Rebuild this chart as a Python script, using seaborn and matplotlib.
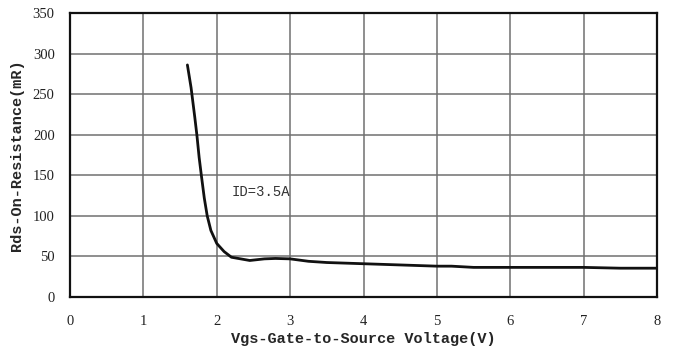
import matplotlib
matplotlib.use("Agg")
import matplotlib.pyplot as plt
import seaborn as sns
import pandas as pd

# Rds(on) versus gate-source voltage at ID = 3.5 A
vgs = [1.60, 1.65, 1.70, 1.73, 1.76, 1.79, 1.83, 1.87, 1.92, 2.00, 2.10, 2.20,
       2.45, 2.65, 2.80, 3.00, 3.25, 3.50, 4.00, 4.50, 5.00, 5.20, 5.50, 6.00,
       6.50, 7.00, 7.50, 8.00]
rds = [286, 258, 222, 199, 172, 150, 122, 100, 82, 66, 56, 49,
       45, 47, 47.5, 47, 44, 42.5, 41, 39.5, 38, 38, 36.5, 36.5,
       36.5, 36.5, 35.5, 35.5]

x_ticks = [0, 1, 2, 3, 4, 5, 6, 7, 8]
y_ticks = [0, 50, 100, 150, 200, 250, 300, 350]

df = pd.DataFrame({"Vgs": vgs, "Rds": rds})

sns.set_style("white")
fig = plt.figure(figsize=(6.74, 3.52), dpi=100)
ax = fig.add_axes([70 / 674, 1 - 297 / 352, 587 / 674, 284 / 352])

sns.lineplot(data=df, x="Vgs", y="Rds", ax=ax, color="#111111", linewidth=2.0)

ax.set_xlim(0, 8)
ax.set_ylim(0, 350)
ax.set_xticks(x_ticks)
ax.set_yticks(y_ticks)
ax.grid(True, color="#707070", linewidth=1.1)
ax.tick_params(axis="x", length=0, pad=13, labelsize=10.5, labelcolor="#222222")
ax.tick_params(axis="y", length=0, pad=11, labelsize=10.5, labelcolor="#222222")
for lbl in ax.get_xticklabels() + ax.get_yticklabels():
    lbl.set_family("Liberation Serif")
for s in ax.spines.values():
    s.set_visible(True)
    s.set_color("#111111")
    s.set_linewidth(1.6)

ax.set_xlabel("Vgs-Gate-to-Source Voltage(V)", family="Liberation Mono",
              fontweight="bold", fontsize=11, labelpad=3)
ax.set_ylabel("Rds-On-Resistance(mR)", family="Liberation Mono",
              fontweight="bold", fontsize=11, labelpad=6)

ax.text(2.2, 129, "ID=3.5A", family="Liberation Mono", fontsize=10,
        color="#333333", va="center")

fig.savefig("out.png", dpi=100)
